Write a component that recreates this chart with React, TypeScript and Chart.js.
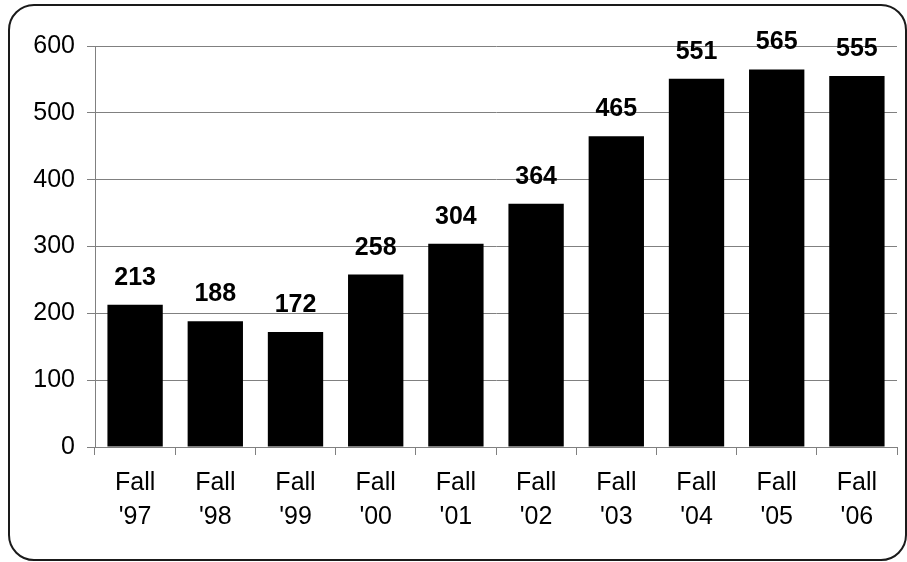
import React, { useEffect, useRef } from "react";
import { Chart, registerables } from "chart.js";

Chart.register(...registerables);

const categories: string[][] = [
  ["Fall", "'97"], ["Fall", "'98"], ["Fall", "'99"], ["Fall", "'00"], ["Fall", "'01"],
  ["Fall", "'02"], ["Fall", "'03"], ["Fall", "'04"], ["Fall", "'05"], ["Fall", "'06"],
];
const values: number[] = [213, 188, 172, 258, 304, 364, 465, 551, 565, 555];
const yMin = 0;
const yMax = 600;
const yStep = 100;

const FONT = "'Liberation Sans', Arial, sans-serif";

const framePlugin = {
  id: "frame",
  beforeDraw(chart: any) {
    const ctx = chart.ctx;
    ctx.save();
    ctx.fillStyle = "#ffffff";
    ctx.fillRect(0, 0, chart.width, chart.height);
    ctx.beginPath();
    ctx.lineWidth = 2;
    ctx.strokeStyle = "#1a1a1a";
    ctx.roundRect(9, 5, 897, 555, 25);
    ctx.stroke();
    ctx.restore();
  },
};

const labelPlugin = {
  id: "barLabels",
  afterDatasetsDraw(chart: any) {
    const ctx = chart.ctx;
    const meta = chart.getDatasetMeta(0);
    ctx.save();
    ctx.font = `bold 25px ${FONT}`;
    ctx.fillStyle = "#000000";
    ctx.textAlign = "center";
    ctx.textBaseline = "alphabetic";
    meta.data.forEach((bar: any, i: number) => {
      ctx.fillText(String(values[i]), bar.x, bar.y - 20);
    });
    ctx.restore();
  },
};

export default function App() {
  const ref = useRef<HTMLCanvasElement | null>(null);
  useEffect(() => {
    if (!ref.current) return;
    const chart = new Chart(ref.current, {
      type: "bar",
      data: {
        labels: categories,
        datasets: [
          {
            data: values,
            backgroundColor: "#000000",
            borderWidth: 0,
            barPercentage: 0.69,
            categoryPercentage: 1,
          },
        ],
      },
      options: {
        responsive: false,
        animation: false,
        layout: { padding: { top: 46, right: 10, left: 0, bottom: 0 } },
        plugins: { legend: { display: false }, tooltip: { enabled: false } },
        scales: {
          x: {
            offset: true,
            grid: {
              offset: true,
              drawOnChartArea: false,
              drawTicks: true,
              tickLength: 8,
              color: "#808080",
              lineWidth: 1,
            },
            border: { display: true, color: "#808080", width: 1 },
            ticks: {
              color: "#000000",
              font: { family: FONT, size: 25, lineHeight: 1.36 },
              padding: 11,
              maxRotation: 0,
              autoSkip: false,
            },
            afterFit(scale: any) {
              scale.height = 115;
            },
          },
          y: {
            min: yMin,
            max: yMax,
            grid: { color: "#808080", lineWidth: 1, tickLength: 8, drawTicks: true },
            border: { display: true, color: "#808080", width: 1 },
            ticks: {
              stepSize: yStep,
              color: "#000000",
              font: { family: FONT, size: 25 },
              padding: 12,
            },
            afterFit(scale: any) {
              scale.width = 95;
            },
          },
        },
      },
      plugins: [framePlugin, labelPlugin],
    });
    return () => chart.destroy();
  }, []);
  return (
    <div style={{ position: "fixed", left: 0, top: 0, width: 907, height: 562, background: "#fff" }}>
      <canvas ref={ref} width={907} height={562} style={{ display: "block" }} />
    </div>
  );
}
